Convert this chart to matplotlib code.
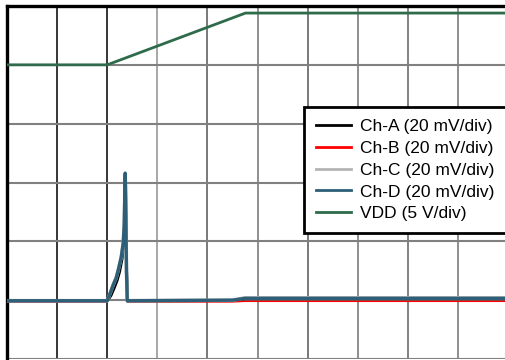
import numpy as np
import matplotlib.pyplot as plt

plt.rcParams['font.family'] = ['Liberation Sans', 'DejaVu Sans']

# time axis in divisions, levels in divisions (0 = bottom of screen)
vdd_t = [0.0, 2.0, 4.76, 10.0]
vdd_v = [5.0, 5.0, 5.88, 5.88]

ch_t = [0.0, 1.0, 2.0, 2.06, 2.12, 2.18, 2.22, 2.28, 2.32, 2.34, 2.36, 2.385, 2.40, 4.5, 4.75, 10.0]
ch_a_t = [0.0, 1.0, 2.0, 2.08, 2.14, 2.20, 2.25, 2.30, 2.33, 2.35, 2.37, 2.39, 2.41, 4.5, 4.75, 10.0]
ch_a = [0.98, 0.98, 0.98, 1.08, 1.20, 1.33, 1.48, 1.70, 1.95, 2.25, 3.05, 1.5, 0.98, 0.99, 1.02, 1.02]
ch_b = [0.97, 0.97, 0.97, 1.10, 1.24, 1.36, 1.50, 1.72, 1.96, 2.27, 3.12, 1.5, 0.97, 0.97, 0.98, 0.98]
ch_c = [0.99, 0.99, 0.99, 1.12, 1.26, 1.38, 1.51, 1.73, 1.97, 2.28, 3.14, 1.5, 0.99, 1.00, 1.04, 1.04]
ch_d = [0.99, 0.99, 0.99, 1.12, 1.26, 1.38, 1.51, 1.73, 1.97, 2.28, 3.16, 1.5, 0.99, 1.00, 1.03, 1.03]

labels = ["Ch-A (20 mV/div)", "Ch-B (20 mV/div)", "Ch-C (20 mV/div)",
          "Ch-D (20 mV/div)", "VDD (5 V/div)"]

fig = plt.figure(figsize=(5.05, 3.6), dpi=100)
ax = fig.add_axes([7/505, 1/360, 501/505, 353/360])
ax.set_xlim(0, 10)
ax.set_ylim(0, 6)

# scope graticule
vcols = ['k', 'k', '#909090', '#555555', '#707070', '#555555', '#707070', '#606060', '#707070', '#555555']
for i in range(1, 11):
    ax.axvline(i, color=vcols[i - 1], lw=1.1, zorder=1)
for j in range(0, 6):
    ax.axhline(j, color='#808080', lw=1.5, zorder=1)

ax.plot(ch_t, ch_c, color='#b4b4b4', lw=2.6, label=labels[2], zorder=3)
ax.plot(ch_a_t, ch_a, color='black', lw=1.8, label=labels[0], zorder=2)
ax.plot(ch_t, ch_b, color='red', lw=1.0, label=labels[1], zorder=2.5)
ax.plot(ch_t, ch_d, color='#2e5f78', lw=2.4, label=labels[3], zorder=4)
ax.plot(vdd_t, vdd_v, color='#2e6b4b', lw=2.0, label=labels[4], zorder=4)

for s in ['right', 'bottom']:
    ax.spines[s].set_visible(False)
for s in ['left', 'top']:
    ax.spines[s].set_linewidth(2.4)
    ax.spines[s].set_color('black')
ax.set_xticks([])
ax.set_yticks([])

h, l = ax.get_legend_handles_labels()
order = [l.index(x) for x in labels]
leg = ax.legend([h[i] for i in order], labels, loc='upper left',
                bbox_to_anchor=(304/505, 1 - 107/360), bbox_transform=fig.transFigure,
                fontsize=12.5, frameon=True, fancybox=False, framealpha=1,
                handlelength=2.0, handletextpad=0.55, labelspacing=0.38,
                borderpad=0.7, borderaxespad=0)
leg.get_frame().set_edgecolor('black')
leg.get_frame().set_linewidth(2.0)
leg.set_zorder(10)
for ln in leg.get_lines():
    ln.set_linewidth(2.0)

fig.savefig('out.png', dpi=100)
